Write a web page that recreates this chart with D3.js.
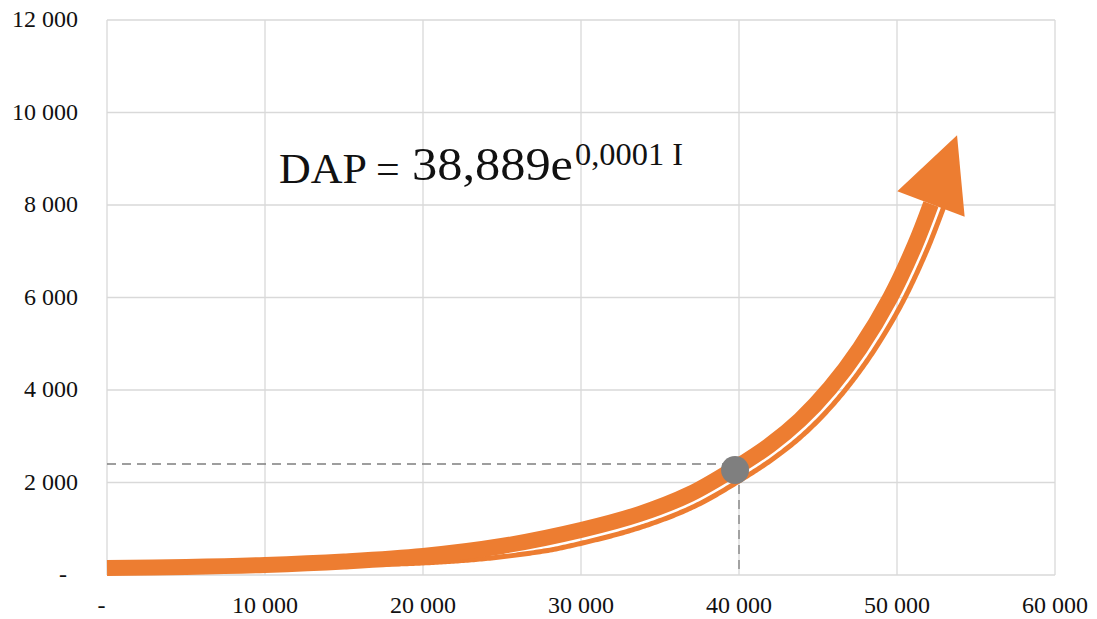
<!DOCTYPE html>
<html>
<head>
<meta charset="utf-8">
<script src="https://cdn.jsdelivr.net/npm/d3@7"></script>
<style>
  html, body { margin: 0; padding: 0; background: #ffffff; }
  svg { display: block; }
  text { font-family: 'Liberation Serif', 'Times New Roman', serif; fill: #111; }
</style>
</head>
<body>
<svg id="chart" width="1097" height="619"></svg>
<script>
// Axis ticks
const xTicks = [0, 10000, 20000, 30000, 40000, 50000, 60000];
const yTicks = [0, 2000, 4000, 6000, 8000, 10000, 12000];

// Growth curve DAP(I), read along the band
const curveI   = [0, 5000, 10000, 15000, 20000, 25000, 30000, 33700, 36900, 39750, 41960, 43860, 45760, 47660, 49560, 51140, 52150];
const curveDAP = [151, 173, 216, 292, 411, 627, 973, 1319, 1751, 2310, 2811, 3351, 4043, 4908, 5989, 7135, 8021];
const arrowTip = [53800, 9510];

// Highlighted point and its guide lines
const pointI = 39750, pointDAP = 2270;
const guideI = 40000, guideDAP = 2400;

// Second strand of the band separates between these values of I
const strandStartI = 16000, strandFullI = 28000;

const fmt = v => v === 0 ? "-" : d3.format(",")(v).replace(/,/g, " ");

const svg = d3.select("#chart");
const x = d3.scaleLinear().domain([0, 60000]).range([107, 1055]);
const y = d3.scaleLinear().domain([0, 12000]).range([575, 20]);

const ORANGE = "#ed7d31";
const GRID = "#d9d9d9";
const GREY = "#7f7f7f";

// Gridlines
const grid = svg.append("g");
grid.selectAll("line.v").data(xTicks).join("line")
  .attr("x1", d => x(d)).attr("x2", d => x(d))
  .attr("y1", y(12000)).attr("y2", y(0))
  .attr("stroke", GRID).attr("stroke-width", 1.3);
grid.selectAll("line.h").data(yTicks).join("line")
  .attr("x1", x(0)).attr("x2", x(60000))
  .attr("y1", d => y(d)).attr("y2", d => y(d))
  .attr("stroke", GRID).attr("stroke-width", 1.3);

// Tick labels
svg.append("g").selectAll("text").data(yTicks).join("text")
  .attr("x", 78).attr("y", d => y(d) + 7)
  .attr("dx", d => d === 0 ? -11 : 0)
  .attr("text-anchor", "end").attr("font-size", 24)
  .text(fmt);
svg.append("g").selectAll("text").data(xTicks).join("text")
  .attr("x", d => x(d)).attr("y", 613)
  .attr("dx", d => d === 0 ? -5.5 : 0)
  .attr("text-anchor", "middle").attr("font-size", 24)
  .text(fmt);

// Dashed guides to the highlighted point
svg.append("line")
  .attr("x1", x(0)).attr("x2", x(pointI))
  .attr("y1", y(guideDAP)).attr("y2", y(guideDAP))
  .attr("stroke", GREY).attr("stroke-width", 1.3).attr("stroke-dasharray", "9,6");
svg.append("line")
  .attr("x1", x(guideI)).attr("x2", x(guideI))
  .attr("y1", y(pointDAP)).attr("y2", y(0))
  .attr("stroke", GREY).attr("stroke-width", 1.3).attr("stroke-dasharray", "9,6");

// Curve
const pts = curveI.map((v, i) => [x(v), y(curveDAP[i])]);
const line = d3.line().curve(d3.curveCatmullRom.alpha(0.5));
const mainPath = svg.append("path")
  .attr("d", line(pts))
  .attr("fill", "none").attr("stroke", ORANGE)
  .attr("stroke-width", 16).attr("stroke-linecap", "butt").attr("stroke-linejoin", "round");

// Lower strand: offset copy of the curve on its lower-right side
const node = mainPath.node();
const total = node.getTotalLength();
const samples = [];
for (let s = 0; s <= total; s += 2) samples.push(node.getPointAtLength(s));
samples.push(node.getPointAtLength(total));
const offsetAt = d3.scaleLinear().domain([x(strandStartI), x(strandFullI)]).range([4, 13]).clamp(true);
const strand = [];
for (let i = 0; i < samples.length; i++) {
  const a = samples[Math.max(0, i - 1)], b = samples[Math.min(samples.length - 1, i + 1)];
  const dx = b.x - a.x, dy = b.y - a.y, len = Math.hypot(dx, dy) || 1;
  const p = samples[i];
  if (p.x < x(strandStartI)) continue;
  const off = offsetAt(p.x);
  strand.push([p.x + (-dy / len) * off, p.y + (dx / len) * off]);
}
svg.insert("path", () => node)
  .attr("d", d3.line()(strand))
  .attr("fill", "none").attr("stroke", ORANGE)
  .attr("stroke-width", 5).attr("stroke-linecap", "round");

// Arrowhead at the end of the curve
const M = pts[pts.length - 1];
const T = [x(arrowTip[0]), y(arrowTip[1])];
const ux = (T[0] - M[0]), uy = (T[1] - M[1]);
const ul = Math.hypot(ux, uy);
const px = -uy / ul, py = ux / ul;
const half = 36;
svg.append("path")
  .attr("d", d3.line()([T, [M[0] + px * half, M[1] + py * half], [M[0] - px * half, M[1] - py * half]]) + "Z")
  .attr("fill", ORANGE);

// Highlighted point
svg.append("circle")
  .attr("cx", x(pointI)).attr("cy", y(pointDAP)).attr("r", 14)
  .attr("fill", GREY);

// Equation
svg.append("text").attr("x", 279).attr("y", 183).attr("font-size", 42)
  .attr("textLength", 88).attr("lengthAdjust", "spacingAndGlyphs").text("DAP");
svg.append("text").attr("x", 376).attr("y", 183).attr("font-size", 42).text("=");
svg.append("text").attr("x", 412).attr("y", 180).attr("font-size", 46)
  .attr("textLength", 161).attr("lengthAdjust", "spacingAndGlyphs").text("38,889e");
svg.append("text").attr("x", 575).attr("y", 165).attr("font-size", 32)
  .attr("textLength", 108).attr("lengthAdjust", "spacingAndGlyphs").text("0,0001 I");
</script>
</body>
</html>
